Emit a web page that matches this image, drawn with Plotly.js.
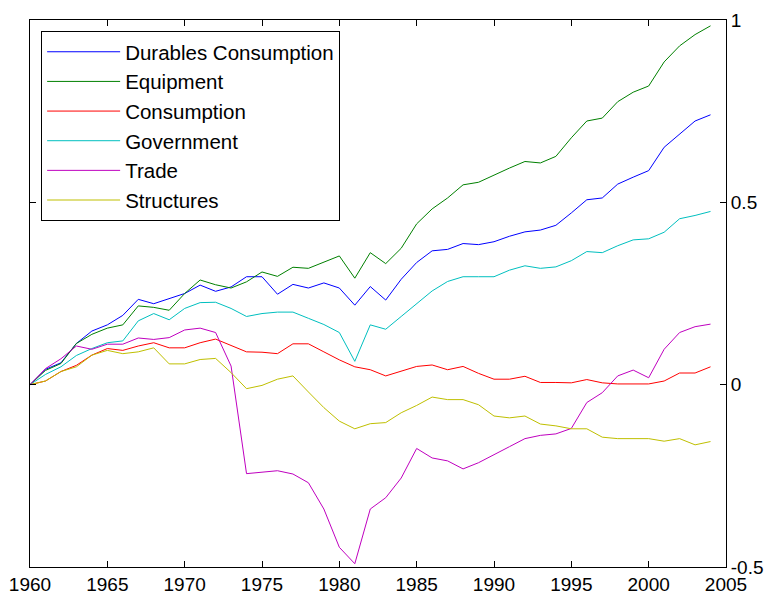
<!DOCTYPE html>
<html>
<head>
<meta charset="utf-8">
<script src="https://cdn.plot.ly/plotly-3.0.1.min.js"></script>
<style>
html,body{margin:0;padding:0;background:#fff;}
#chart{width:768px;height:597px;}
</style>
</head>
<body>
<div id="chart"></div>
<script>
var years = [1960,1961,1962,1963,1964,1965,1966,1967,1968,1969,
             1970,1971,1972,1973,1974,1975,1976,1977,1978,1979,
             1980,1981,1982,1983,1984,1985,1986,1987,1988,1989,
             1990,1991,1992,1993,1994,1995,1996,1997,1998,1999,
             2000,2001,2002,2003,2004];

var durables = [0,0.042,0.060,0.113,0.147,0.164,0.190,0.234,0.222,0.236,
                0.250,0.273,0.256,0.268,0.296,0.296,0.248,0.275,0.265,0.279,
                0.265,0.218,0.269,0.232,0.289,0.335,0.367,0.371,0.387,0.384,
                0.392,0.407,0.419,0.424,0.437,0.471,0.507,0.512,0.550,0.569,
                0.587,0.651,0.688,0.723,0.740];

var equipment = [0,0.039,0.058,0.113,0.138,0.155,0.164,0.216,0.212,0.204,
                 0.250,0.287,0.274,0.265,0.282,0.309,0.297,0.322,0.319,0.336,
                 0.353,0.292,0.362,0.332,0.374,0.441,0.482,0.512,0.548,0.555,
                 0.575,0.594,0.612,0.608,0.626,0.677,0.723,0.731,0.776,0.802,
                 0.819,0.885,0.929,0.960,0.984];

var consumption = [0,0.010,0.036,0.053,0.081,0.099,0.094,0.106,0.115,0.101,
                   0.101,0.115,0.125,0.108,0.090,0.089,0.085,0.112,0.112,0.090,
                   0.068,0.049,0.041,0.024,0.037,0.050,0.054,0.041,0.050,0.031,
                   0.015,0.015,0.023,0.006,0.006,0.005,0.014,0.005,0.002,0.002,
                   0.002,0.010,0.032,0.032,0.049];

var government = [0,0.028,0.049,0.080,0.099,0.115,0.120,0.175,0.195,0.178,
                  0.209,0.225,0.226,0.209,0.187,0.195,0.199,0.199,0.182,0.165,
                  0.143,0.064,0.164,0.152,0.187,0.222,0.257,0.283,0.296,0.296,
                  0.296,0.314,0.326,0.319,0.323,0.340,0.365,0.362,0.381,0.397,
                  0.400,0.418,0.455,0.464,0.475];

var trade = [0,0.044,0.071,0.106,0.097,0.111,0.111,0.128,0.124,0.129,
             0.150,0.155,0.143,0.051,-0.244,-0.240,-0.236,-0.245,-0.269,-0.341,
             -0.446,-0.491,-0.341,-0.310,-0.256,-0.175,-0.201,-0.209,-0.231,-0.214,
             -0.193,-0.170,-0.148,-0.139,-0.135,-0.120,-0.049,-0.022,0.024,0.040,
             0.019,0.097,0.143,0.159,0.166];

var structures = [0,0.010,0.036,0.049,0.081,0.094,0.085,0.090,0.101,0.057,
                  0.057,0.069,0.072,0.033,-0.011,-0.002,0.015,0.024,-0.020,-0.063,
                  -0.100,-0.121,-0.107,-0.104,-0.077,-0.057,-0.034,-0.041,-0.041,-0.055,
                  -0.086,-0.091,-0.086,-0.108,-0.113,-0.121,-0.121,-0.144,-0.148,-0.148,
                  -0.148,-0.155,-0.148,-0.165,-0.156];

var seriesNames = ["Durables Consumption","Equipment","Consumption","Government","Trade","Structures"];
var seriesColors = ["#0000ff","#008000","#ff0000","#00bfbf","#bf00bf","#bfbf00"];
var seriesValues = [durables, equipment, consumption, government, trade, structures];

var xTickVals = [1960,1965,1970,1975,1980,1985,1990,1995,2000,2005];
var yTickVals = [-0.5,0,0.5,1];
var yTickText = ["-0.5","0","0.5","1"];

var traces = seriesNames.map(function(name, i){
  return {
    x: years, y: seriesValues[i], type: "scatter", mode: "lines",
    name: name, legendgroup: "g" + i,
    line: {color: seriesColors[i], width: 1}
  };
});

var font = {family: "Liberation Sans, Arial, sans-serif", size: 19, color: "#000"};
var legendFont = {family: "Liberation Sans, Arial, sans-serif", size: 20.5, color: "#000"};

var layout = {
  width: 768, height: 597,
  margin: {l: 30, r: 42, t: 20, b: 30},
  paper_bgcolor: "#fff", plot_bgcolor: "#fff",
  font: font,
  showlegend: true,
  legend: {
    x: 0.016, y: 0.98, xanchor: "left", yanchor: "top",
    bgcolor: "#fff", bordercolor: "#000", borderwidth: 1,
    font: legendFont, itemwidth: 73, tracegroupgap: 0,
    entrywidth: 300, entrywidthmode: "pixels"
  },
  xaxis: {
    range: [1960, 2005], tickvals: xTickVals,
    ticks: "inside", ticklen: 6, tickcolor: "#000",
    showline: true, linecolor: "#000", linewidth: 1, mirror: "ticks",
    showgrid: false, zeroline: false, tickfont: font
  },
  yaxis: {
    range: [-0.5, 1], side: "right", tickvals: yTickVals, ticktext: yTickText,
    ticks: "inside", ticklen: 6, tickcolor: "#000",
    showline: true, linecolor: "#000", linewidth: 1, mirror: "ticks",
    showgrid: false, zeroline: false, tickfont: font
  }
};

Plotly.newPlot("chart", traces, layout, {displayModeBar: false, staticPlot: true});
</script>
</body>
</html>
